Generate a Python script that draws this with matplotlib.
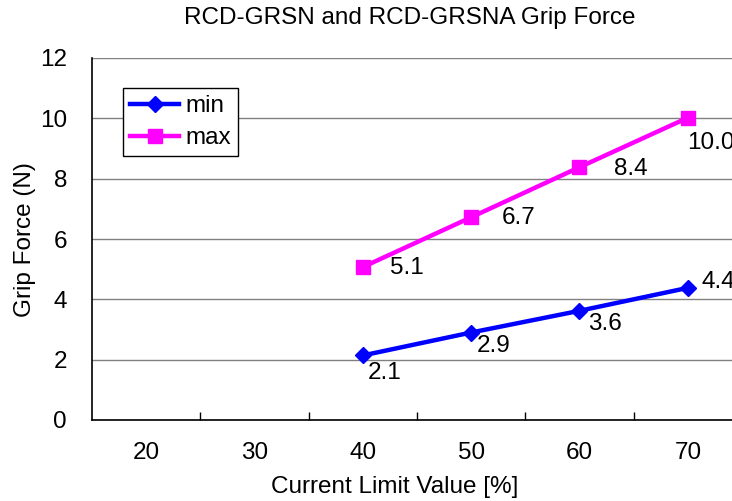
import numpy as np
import matplotlib
matplotlib.use("Agg")
import matplotlib.pyplot as plt

plt.rcParams['font.family'] = ['Liberation Sans', 'DejaVu Sans']

categories = ["20", "30", "40", "50", "60", "70"]
min_cats = ["40", "50", "60", "70"]
min_force = [2.14, 2.9, 3.62, 4.38]
max_cats = ["40", "50", "60", "70"]
max_force = [5.07, 6.72, 8.38, 10.02]

# label offsets in pixels (dx right, dy down)
min_offsets = [(22, 18), (22, 13), (25, 13), (31, -6)]
max_offsets = [(44, 1), (47, 1), (51, 2), (23, 25)]

fig = plt.figure(figsize=(7.32, 5.01), dpi=100)
ax = fig.add_axes([92/732, 1-420/501, 650/732, 362/501])

xpos = {c: i for i, c in enumerate(categories)}
xmin = [xpos[c] for c in min_cats]
xmax = [xpos[c] for c in max_cats]

ax.plot(xmin, min_force, "-D", color="#0000FF", lw=3.2, ms=8, label="min", clip_on=False)
ax.plot(xmax, max_force, "-s", color="#FF00FF", lw=3.2, ms=9.5, label="max", clip_on=False)

fs = 17.5
for x, v, (dx, dy) in zip(xmin, min_force, min_offsets):
    ax.annotate("%.1f" % v, (x, v), xytext=(dx*0.72, -dy*0.72), textcoords="offset points",
                ha="center", va="center", fontsize=fs, annotation_clip=False)
for x, v, (dx, dy) in zip(xmax, max_force, max_offsets):
    ax.annotate("%.1f" % v, (x, v), xytext=(dx*0.72, -dy*0.72), textcoords="offset points",
                ha="center", va="center", fontsize=fs, annotation_clip=False)

ax.set_xlim(-0.5, len(categories) - 0.5)
ax.set_ylim(0, 12)
ax.set_yticks(np.arange(0, 13, 2))
ax.set_xticks(range(len(categories)))
ax.set_xticklabels(categories)
ax.set_xticks(np.arange(0.5, len(categories) - 0.5, 1), minor=True)
ax.tick_params(axis="x", which="major", length=0, pad=16, labelsize=fs)
ax.tick_params(axis="x", which="minor", direction="in", length=6, width=1)
ax.tick_params(axis="y", length=0, pad=18, labelsize=fs)

ax.grid(axis="y", color="#808080", lw=1)
ax.set_axisbelow(True)
for s in ["top", "right"]:
    ax.spines[s].set_visible(False)
for s in ["left", "bottom"]:
    ax.spines[s].set_color("black")
    ax.spines[s].set_linewidth(1.2)

leg = ax.legend(loc="upper left", bbox_to_anchor=(31/650, 1-30/362), fontsize=fs,
                frameon=True, fancybox=False, edgecolor="black", framealpha=1,
                handlelength=2.0, borderpad=0.3, labelspacing=0.4, handletextpad=0.25,
                borderaxespad=0)
leg.get_frame().set_linewidth(1)

fig.text(410/732, 1-18/501, "RCD-GRSN and RCD-GRSNA Grip Force", ha="center", va="center", fontsize=fs)
fig.text(395/732, 1-487/501, "Current Limit Value [%]", ha="center", va="center", fontsize=fs)
fig.text(25/732, 1-240/501, "Grip Force (N)", ha="center", va="center", fontsize=fs, rotation=90)

fig.savefig("out.png", dpi=100)
